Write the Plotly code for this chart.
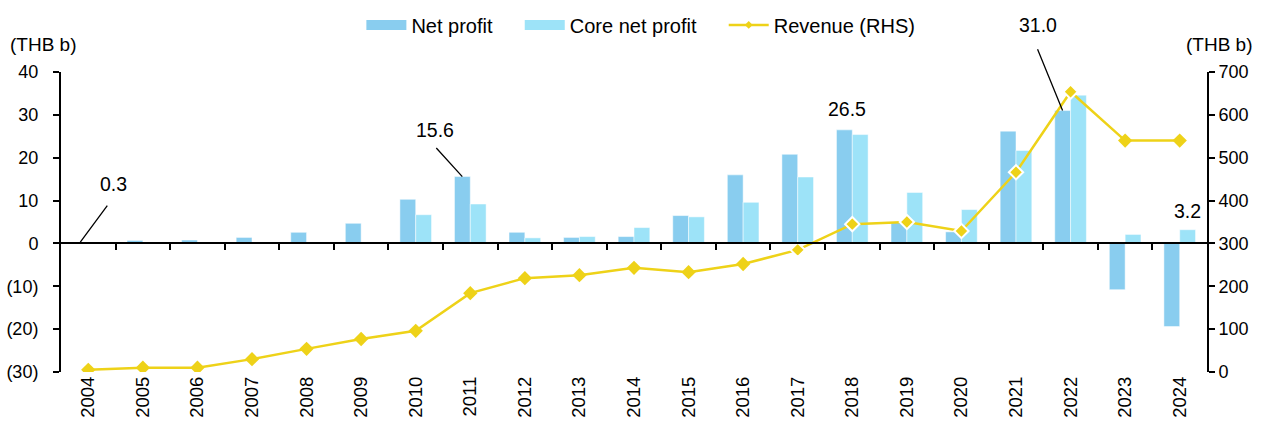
import plotly.graph_objects as go

# data (THB b)
years = [str(y) for y in range(2004, 2025)]
net_profit = [0.3, 0.7, 0.8, 1.4, 2.6, 4.7, 10.3, 15.6, 2.6, 1.4, 1.6, 6.5,
              16.0, 20.8, 26.5, 5.0, 2.7, 26.2, 31.0, -10.8, -19.4]
core_net_profit = [0.0, 0.0, 0.0, 0.0, 0.0, 0.0, 6.7, 9.2, 1.3, 1.6, 3.7, 6.2,
                   9.6, 15.5, 25.4, 11.9, 7.9, 21.7, 34.6, 2.1, 3.2]
revenue = [5, 10, 10, 30, 54, 77, 96, 184, 219, 226, 243, 233,
           252, 285, 345, 350, 329, 466, 654, 540, 540]
left_ticks = [-30, -20, -10, 0, 10, 20, 30, 40]
right_ticks = [0, 100, 200, 300, 400, 500, 600, 700]

NET_C = '#89CDEF'
CORE_C = '#9DE3F8'
REV_C = '#EED218'
FONT = 'Liberation Sans, Arial, sans-serif'
PAD = '\u00a0' * 4  # extra gap between legend entries

# revenue markers sitting on top of bars get a white rim
outlined = {'2017', '2018', '2019', '2020', '2021', '2022'}
rim = [2 if y in outlined else 0 for y in years]

fig = go.Figure()
fig.add_trace(go.Bar(x=years, y=net_profit, name='Net profit', marker_color=NET_C,
                     marker_line=dict(color='white', width=0.5), showlegend=False))
fig.add_trace(go.Bar(x=years, y=core_net_profit, name='Core net profit', marker_color=CORE_C,
                     marker_line=dict(color='white', width=0.5), showlegend=False))
fig.add_trace(go.Scatter(x=years, y=revenue, name='Revenue (RHS)', yaxis='y2',
                         mode='lines+markers', line=dict(color=REV_C, width=2.5),
                         marker=dict(symbol='diamond', size=11, color=REV_C,
                                     line=dict(color='white', width=rim)),
                         showlegend=False))

# legend proxies (wide flat swatches like the original)
fig.add_trace(go.Scatter(x=[None], y=[None], mode='lines', name='Net profit' + PAD,
                         line=dict(color=NET_C, width=10)))
fig.add_trace(go.Scatter(x=[None], y=[None], mode='lines', name='Core net profit' + PAD,
                         line=dict(color=CORE_C, width=10)))
fig.add_trace(go.Scatter(x=[None], y=[None], mode='lines+markers', name='Revenue (RHS)',
                         line=dict(color=REV_C, width=2.5),
                         marker=dict(symbol='diamond', size=6, color=REV_C)))

# invisible anchor so the zero-line axis gets drawn
fig.add_trace(go.Scatter(x=[0], y=[0], xaxis='x2', mode='markers',
                         marker=dict(opacity=0), showlegend=False, hoverinfo='skip'))

n = len(years)
zero_pos = (0 - left_ticks[0]) / (left_ticks[-1] - left_ticks[0])

# callouts: year, value, label, bar offset px, text dx, text dy, arrow tail dx, dy
callouts = [
    ('2004', net_profit[0], '0.3', -8, 33, -58, 31, -42),
    ('2011', net_profit[7], '15.6', -8, -27, -47, -30, -33),
    ('2018', net_profit[14], '26.5', -8, 3, -21, None, None),
    ('2022', net_profit[18], '31.0', -8, -25, -86, -29, -71),
    ('2024', core_net_profit[20], '3.2', 8, 0, -19, None, None),
]
for yr, val, label, off, tdx, tdy, adx, ady in callouts:
    xi = years.index(yr)
    if adx is not None:
        fig.add_annotation(xref='x', yref='y', x=xi, y=val, xshift=off, text=' ',
                           showarrow=True, ax=adx, ay=ady, arrowhead=0, arrowwidth=1.3,
                           arrowcolor='black', standoff=0)
    fig.add_annotation(xref='x', yref='y', x=xi, y=val, xshift=off + tdx, yshift=-tdy,
                       text=label, showarrow=False, font=dict(size=19.5, color='black'))

fig.add_annotation(xref='paper', yref='paper', x=-0.046, y=1.093, xanchor='left',
                   yanchor='middle', text='(THB b)', showarrow=False,
                   font=dict(size=19, color='black'))
fig.add_annotation(xref='paper', yref='paper', x=1.042, y=1.093, xanchor='right',
                   yanchor='middle', text='(THB b)', showarrow=False,
                   font=dict(size=19, color='black'))

fig.update_layout(
    width=1265, height=430,
    margin=dict(l=61, r=58, t=72, b=58, autoexpand=False),
    plot_bgcolor='white', paper_bgcolor='white',
    font=dict(family=FONT, size=18, color='black'),
    barmode='group', bargap=0.42, bargroupgap=0,
    showlegend=True,
    legend=dict(orientation='h', x=0.506, xanchor='center', y=1.222, yanchor='top',
                font=dict(size=20), itemwidth=40, bgcolor='rgba(0,0,0,0)'),
    xaxis=dict(type='category', range=[-0.5, n - 0.5], showline=False, ticks='',
               showgrid=False, tickangle=-90, tickfont=dict(size=18.5), automargin=False),
    xaxis2=dict(overlaying='x', anchor='free', position=zero_pos, range=[-0.5, n - 0.5],
                showline=True, linecolor='black', linewidth=2, showgrid=False,
                zeroline=False, tickmode='array', tickvals=[i + 0.5 for i in range(n - 1)],
                ticks='outside', ticklen=6, tickwidth=2, tickcolor='black',
                showticklabels=False, automargin=False),
    yaxis=dict(range=[left_ticks[0], left_ticks[-1]], tickmode='array', tickvals=left_ticks,
               ticktext=[f'({abs(v)})' if v < 0 else str(v) for v in left_ticks],
               showline=True, linecolor='black', linewidth=2, ticks='outside', ticklen=6,
               tickwidth=2, tickcolor='black', showgrid=False, zeroline=False,
               ticklabelstandoff=11, tickfont=dict(size=18), automargin=False),
    yaxis2=dict(overlaying='y', side='right', range=[right_ticks[0], right_ticks[-1]],
                tickmode='array', tickvals=right_ticks, showline=True, linecolor='black',
                linewidth=2, ticks='outside', ticklen=6, tickwidth=2, tickcolor='black',
                showgrid=False, zeroline=False, tickfont=dict(size=18), automargin=False),
)

fig.write_html("out.html", config={'displayModeBar': False},
               post_script="document.body.style.margin='0';")
